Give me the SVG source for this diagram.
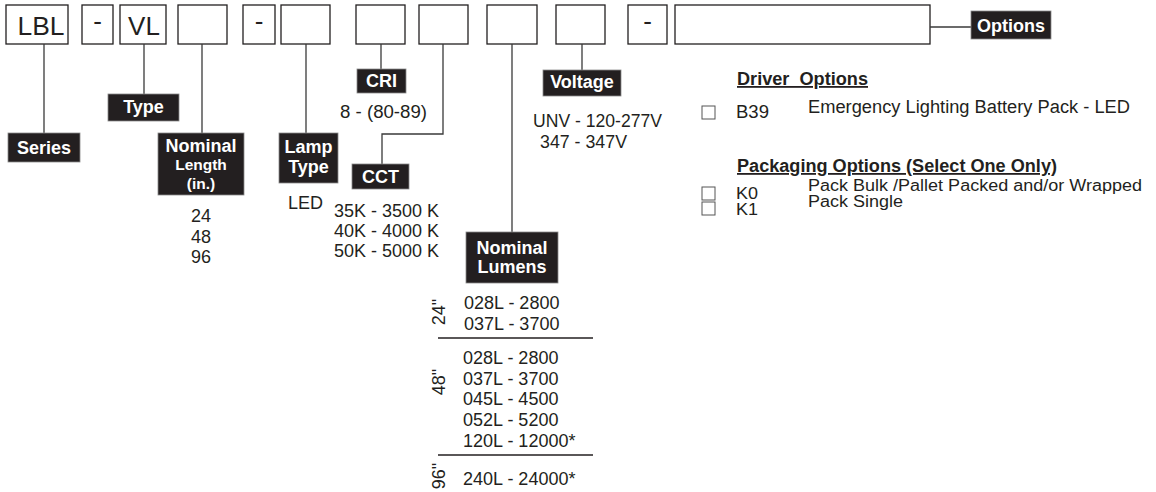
<svg xmlns="http://www.w3.org/2000/svg" width="1156" height="492" viewBox="0 0 1156 492">
<style>
.box{fill:#fff;stroke:#231f20;stroke-width:1.3}
.lbl{fill:#231f20;stroke:#8a8a8a;stroke-width:0.8}
.lt{font-family:"Liberation Sans",Arial,sans-serif;font-weight:bold;fill:#fff;text-anchor:middle;font-size:18px}
.lts{font-size:15.5px}
.bt{font-family:"Liberation Sans",Arial,sans-serif;fill:#231f20;font-size:26px;text-anchor:middle}
.t{font-family:"Liberation Sans",Arial,sans-serif;fill:#231f20;font-size:18px}
.s{font-size:16px}
.h{font-family:"Liberation Sans",Arial,sans-serif;fill:#231f20;font-size:18px;font-weight:bold;text-decoration:underline}
.c{fill:none;stroke:#3a3a3a;stroke-width:1.3}
.cb{fill:#fff;stroke:#555;stroke-width:1}
.sep{stroke:#231f20;stroke-width:1.3}
</style>
<g id="code-boxes">
<rect class="box" x="6" y="5" width="62" height="39"/><text class="bt" x="41" y="35" textLength="47" lengthAdjust="spacingAndGlyphs">LBL</text>
<rect class="box" x="82" y="5" width="31" height="39"/><text class="bt" x="97.5" y="30">-</text>
<rect class="box" x="120" y="5" width="46" height="39"/><text class="bt" x="144" y="35">VL</text>
<rect class="box" x="178" y="5" width="49" height="39"/>
<rect class="box" x="243" y="5" width="32" height="39"/><text class="bt" x="259" y="30">-</text>
<rect class="box" x="281" y="5" width="49" height="39"/>
<rect class="box" x="356" y="5" width="49" height="39"/>
<rect class="box" x="419" y="5" width="49" height="39"/>
<rect class="box" x="487" y="5" width="50" height="39"/>
<rect class="box" x="556" y="5" width="49" height="39"/>
<rect class="box" x="628" y="5" width="39" height="39"/><text class="bt" x="647.5" y="30">-</text>
<rect class="box" x="675" y="5" width="255" height="39"/>
</g>
<g id="connectors">
<path class="c" d="M44 44V133"/>
<path class="c" d="M144 44V94"/>
<path class="c" d="M202 44V133"/>
<path class="c" d="M306 44V133"/>
<path class="c" d="M381 44V69"/>
<path class="c" d="M443 44V134H382V164"/>
<path class="c" d="M512 44V232"/>
<path class="c" d="M582 44V70"/>
<path class="c" d="M930 27H971"/>
</g>
<g id="series">
<rect class="lbl" x="8" y="133" width="72" height="29"/><text class="lt" x="44" y="154">Series</text>
</g>
<g id="type">
<rect class="lbl" x="108" y="94" width="71" height="27"/><text class="lt" x="143.5" y="113">Type</text>
</g>
<g id="nominal-length">
<rect class="lbl" x="158" y="133" width="86" height="62"/>
<text class="lt" x="201" y="152">Nominal</text>
<text class="lt lts" x="201" y="170">Length</text>
<text class="lt lts" x="201" y="189">(in.)</text>
<text class="t" x="201" y="222" text-anchor="middle">24</text>
<text class="t" x="201" y="243" text-anchor="middle">48</text>
<text class="t" x="201" y="263" text-anchor="middle">96</text>
</g>
<g id="lamp-type">
<rect class="lbl" x="279" y="133" width="59" height="50"/>
<text class="lt" x="308.5" y="153">Lamp</text>
<text class="lt" x="308.5" y="173">Type</text>
<text class="t" x="288" y="209">LED</text>
</g>
<g id="cri">
<rect class="lbl" x="357" y="69" width="49" height="24"/><text class="lt" x="381.5" y="87">CRI</text>
<text class="t" x="340" y="118" textLength="87" lengthAdjust="spacingAndGlyphs">8 - (80-89)</text>
</g>
<g id="cct">
<rect class="lbl" x="352" y="164" width="57" height="25"/><text class="lt" x="380.5" y="183">CCT</text>
<text class="t" x="334" y="217" textLength="105" lengthAdjust="spacingAndGlyphs">35K - 3500 K</text>
<text class="t" x="334" y="237" textLength="105" lengthAdjust="spacingAndGlyphs">40K - 4000 K</text>
<text class="t" x="334" y="257" textLength="105" lengthAdjust="spacingAndGlyphs">50K - 5000 K</text>
</g>
<g id="voltage">
<rect class="lbl" x="543" y="70" width="78" height="26"/><text class="lt" x="582" y="88">Voltage</text>
<text class="t" x="533" y="127" textLength="129" lengthAdjust="spacingAndGlyphs">UNV - 120-277V</text>
<text class="t" x="540" y="148" textLength="87" lengthAdjust="spacingAndGlyphs">347 - 347V</text>
</g>
<g id="nominal-lumens">
<rect class="lbl" x="466" y="232" width="92" height="51"/>
<text class="lt" x="512" y="254">Nominal</text>
<text class="lt" x="512" y="273">Lumens</text>
<text class="t" x="445" y="312" text-anchor="middle" transform="rotate(-90 445 312)">24"</text>
<text class="t" x="464" y="309">028L - 2800</text>
<text class="t" x="464" y="330">037L - 3700</text>
<line class="sep" x1="438" y1="338" x2="593" y2="338"/>
<text class="t" x="445" y="382" text-anchor="middle" transform="rotate(-90 445 382)">48"</text>
<text class="t" x="463" y="364">028L - 2800</text>
<text class="t" x="463" y="385">037L - 3700</text>
<text class="t" x="463" y="405">045L - 4500</text>
<text class="t" x="463" y="426">052L - 5200</text>
<text class="t" x="463" y="447">120L - 12000*</text>
<line class="sep" x1="438" y1="455" x2="593" y2="455"/>
<text class="t" x="445" y="476" text-anchor="middle" transform="rotate(-90 445 476)">96"</text>
<text class="t" x="463" y="485">240L - 24000*</text>
</g>
<g id="options">
<rect class="lbl" x="971" y="11" width="80" height="28"/><text class="lt" x="1011" y="32">Options</text>
</g>
<g id="driver-options">
<text class="h" x="737" y="85" textLength="131" lengthAdjust="spacingAndGlyphs" xml:space="preserve">Driver  Options</text>
<rect class="cb" x="702" y="106" width="13" height="13"/>
<text class="t" x="736" y="118" textLength="33" lengthAdjust="spacingAndGlyphs">B39</text>
<text class="t" x="808" y="113" textLength="322" lengthAdjust="spacingAndGlyphs">Emergency Lighting Battery Pack - LED</text>
</g>
<g id="packaging-options">
<text class="h" x="737" y="172" textLength="320" lengthAdjust="spacingAndGlyphs">Packaging Options (Select One Only)</text>
<rect class="cb" x="702" y="187" width="13" height="13"/>
<text class="t s" x="736" y="199" textLength="22" lengthAdjust="spacingAndGlyphs">K0</text>
<text class="t s" x="808" y="191" textLength="334" lengthAdjust="spacingAndGlyphs">Pack Bulk /Pallet Packed and/or Wrapped</text>
<rect class="cb" x="702" y="202" width="13" height="13"/>
<text class="t s" x="736" y="215" textLength="22" lengthAdjust="spacingAndGlyphs">K1</text>
<text class="t s" x="808" y="207" textLength="95" lengthAdjust="spacingAndGlyphs">Pack Single</text>
</g>
</svg>
